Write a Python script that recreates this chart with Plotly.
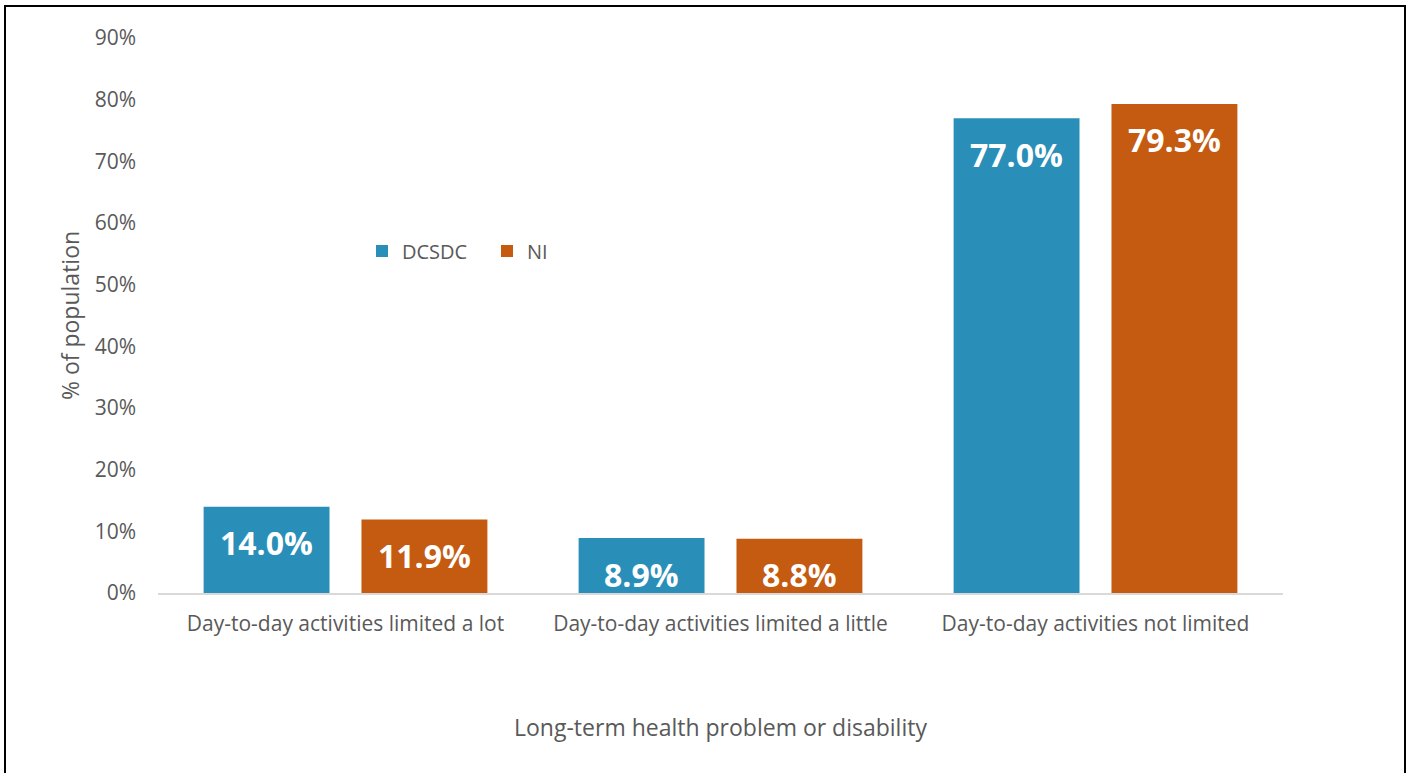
import plotly.graph_objects as go

categories = ["Day-to-day activities limited a lot",
              "Day-to-day activities limited a little",
              "Day-to-day activities not limited"]
dcsdc = [14.0, 8.9, 77.0]
ni = [11.9, 8.8, 79.3]
series_names = ["DCSDC", "NI"]
tick_vals = [0, 10, 20, 30, 40, 50, 60, 70, 80, 90]
tick_text = ["0%", "10%", "20%", "30%", "40%", "50%", "60%", "70%", "80%", "90%"]

BLUE = "#298FB8"
ORANGE = "#C55A11"
GRAY = "#595959"
FONT = "Open Sans"

W, H = 1411, 773
ML, MR, MT, MB = 158, 128, 38, 180
pw, ph = W - ML - MR, H - MT - MB

fig = go.Figure()
for name, vals, col in [(series_names[0], dcsdc, BLUE), (series_names[1], ni, ORANGE)]:
    fig.add_trace(go.Bar(
        x=categories, y=vals, name=name, marker=dict(color=col, line=dict(width=0)),
        hoverinfo="skip",
    ))

# data labels inside bars near the top
for i, cat in enumerate(categories):
    for vals, shift in [(dcsdc, -79), (ni, 79)]:
        fig.add_annotation(x=cat, y=vals[i], xref="x", yref="y",
                           text="<b>%.1f%%</b>" % vals[i], showarrow=False,
                           xshift=shift, yshift=-36, yanchor="middle",
                           font=dict(family=FONT, size=32, color="white"))

# outer border
fig.add_shape(type="rect", xref="paper", yref="paper",
              x0=(5 - ML) / pw, x1=(1405 - ML) / pw,
              y0=(MT + ph - 780) / ph, y1=(MT + ph - 6) / ph,
              line=dict(color="black", width=2), fillcolor="rgba(0,0,0,0)", layer="below")

fig.update_layout(
    width=W, height=H,
    margin=dict(l=ML, r=MR, t=MT, b=MB, pad=0),
    paper_bgcolor="white", plot_bgcolor="white",
    barmode="group", bargap=0.158, bargroupgap=0.2025,
    font=dict(family=FONT, color=GRAY),
    showlegend=True,
    legend=dict(orientation="h", x=(362 - ML) / pw, y=(MT + ph - 251) / ph,
                xanchor="left", yanchor="middle", font=dict(size=20, color=GRAY),
                bgcolor="rgba(0,0,0,0)", itemwidth=30, entrywidth=80),
    xaxis=dict(showline=True, linecolor="#D9D9D9", linewidth=1.5, ticks="",
               tickfont=dict(size=21, color=GRAY), showgrid=False,
               ticklabelstandoff=11,
               title=dict(text="Long-term health problem or disability",
                          font=dict(size=23, color=GRAY), standoff=84)),
    yaxis=dict(range=[0, 90], tickvals=tick_vals, ticktext=tick_text, showgrid=False,
               zeroline=False, showline=False, tickfont=dict(size=21, color=GRAY),
               ticklabelstandoff=21,
               title=dict(text="% of population", font=dict(size=23, color=GRAY), standoff=8)),
)

fig.write_html("out.html")
